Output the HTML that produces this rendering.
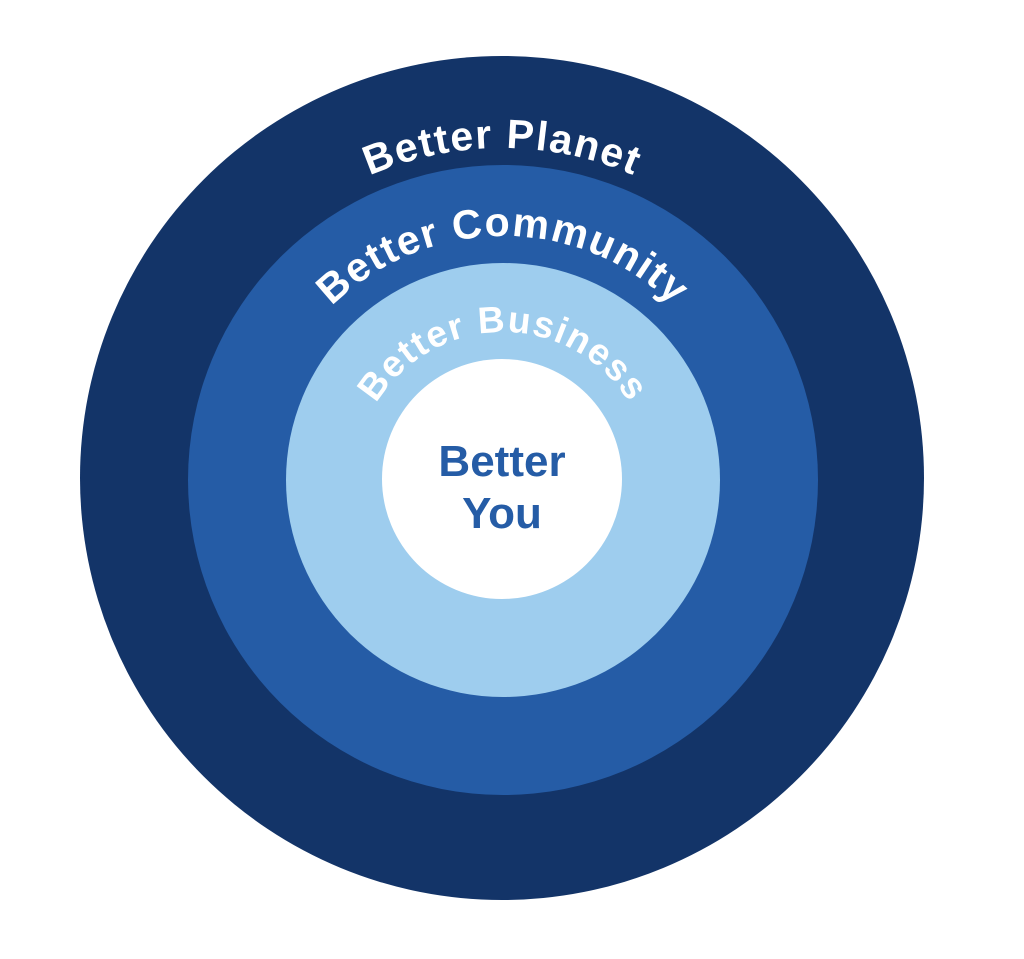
<!DOCTYPE html>
<html><head><meta charset="utf-8"><style>html,body{margin:0;padding:0;background:#fff}svg{display:block}</style></head>
<body>
<svg width="1024" height="959" viewBox="0 0 1024 959" xmlns="http://www.w3.org/2000/svg">
<defs>
<path id="p1" d="M172,478 A330,330 0 0 1 832,478"/>
<path id="p2" d="M259,480 A244,244 0 0 1 747,480"/>
<path id="p3" d="M355,480 A148,148 0 0 1 651,480"/>
</defs>
<circle cx="502" cy="478" r="422" fill="#133468"/>
<circle cx="503" cy="480" r="315" fill="#255ca6"/>
<circle cx="503" cy="480" r="217" fill="#9ecdee"/>
<circle cx="502" cy="479" r="120" fill="#ffffff"/>
<g font-family="Liberation Sans, sans-serif" font-weight="bold" fill="#fff" text-anchor="middle">
<text font-size="41" letter-spacing="1.5"><textPath href="#p1" startOffset="50%">Better Planet</textPath></text>
<text font-size="41" letter-spacing="1.5"><textPath href="#p2" startOffset="50%">Better Community</textPath></text>
<text font-size="37" letter-spacing="1.5"><textPath href="#p3" startOffset="50%">Better Business</textPath></text>
<text x="502" y="476" font-size="44" fill="#255ca6">Better</text>
<text x="502" y="528" font-size="44" fill="#255ca6">You</text>
</g>
</svg>
</body></html>
